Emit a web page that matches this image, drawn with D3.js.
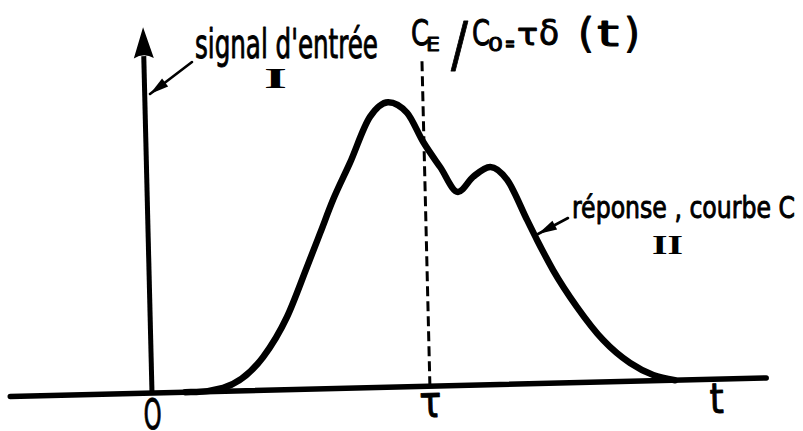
<!DOCTYPE html>
<html>
<head>
<meta charset="utf-8">
<script src="https://cdn.jsdelivr.net/npm/d3@7"></script>
<style>
  html, body { margin: 0; padding: 0; background: #fff; }
  svg { display: block; }
  .hand { font-family: "DejaVu Sans Condensed", "DejaVu Sans", sans-serif; fill: #000; stroke: #000; stroke-width: 0.9; stroke-linejoin: round; }
  .roman { font-family: "Liberation Serif", "DejaVu Serif", serif; font-weight: bold; fill: #000; }
</style>
</head>
<body>
<svg id="chart" width="803" height="431"></svg>
<script>
// Response curve C(t) to a Dirac input, time in units of tau, C/C0 relative to the main peak
const tValues = [0.120, 0.160, 0.256, 0.403, 0.492, 0.568, 0.619, 0.668, 0.732, 0.808, 0.874, 0.942, 0.997, 1.056, 1.118, 1.174, 1.236, 1.296, 1.364, 1.398, 1.453, 1.536, 1.627, 1.722, 1.804, 1.882];
const cValues = [0, 0, 0.012, 0.117, 0.255, 0.428, 0.547, 0.662, 0.790, 0.950, 1.0, 0.961, 0.858, 0.768, 0.679, 0.731, 0.764, 0.717, 0.575, 0.504, 0.397, 0.265, 0.147, 0.064, 0.020, 0];

// time-axis labels and where they sit (in units of tau)
const tickLabels = ["O", "τ", "t"];
const tickValues = [0, 1, 2.03];

// extent of the axes
const timeRange = [-0.51, 2.21];
const signalTop = 1.284;   // tip of the input-signal arrow
const tauLineTop = 1.145;  // top of the dashed line at t = tau

const svg = d3.select("#chart");

const x = d3.scaleLinear().domain([0, 1]).range([0, 278]);
const y = d3.scaleLinear().domain([0, 1]).range([0, -285]);

// the whole frame sits slightly tilted, origin at O
const g = svg.append("g").attr("transform", "translate(152,393) rotate(-1.4)");

// time axis
g.append("line")
  .attr("x1", x(timeRange[0])).attr("x2", x(timeRange[1]))
  .attr("y1", y(0)).attr("y2", y(0))
  .attr("stroke", "#000").attr("stroke-width", 5.5).attr("stroke-linecap", "round");

// input signal: Dirac pulse at t = 0
const headLen = 31, headHalf = 10;
g.append("line")
  .attr("x1", x(0)).attr("x2", x(0))
  .attr("y1", y(0)).attr("y2", y(signalTop) + headLen - 2)
  .attr("stroke", "#000").attr("stroke-width", 5);
g.append("path")
  .attr("d", `M${x(0)},${y(signalTop)} L${x(0) - headHalf},${y(signalTop) + headLen} Q${x(0)},${y(signalTop) + headLen - 6} ${x(0) + headHalf},${y(signalTop) + headLen} Z`)
  .attr("fill", "#000");

// dashed marker at t = tau
g.append("line")
  .attr("x1", x(1)).attr("x2", x(1))
  .attr("y1", y(0)).attr("y2", y(tauLineTop))
  .attr("stroke", "#000").attr("stroke-width", 3).attr("stroke-dasharray", "10,5");

// response curve
const line = d3.line()
  .x((d, i) => x(tValues[i]))
  .y((d, i) => y(cValues[i]))
  .curve(d3.curveMonotoneX);
g.append("path")
  .datum(tValues)
  .attr("d", line)
  .attr("fill", "none")
  .attr("stroke", "#000").attr("stroke-width", 6.5)
  .attr("stroke-linejoin", "round").attr("stroke-linecap", "round");

// time-axis labels
const labelStyle = [
  { size: 42, len: 18, dy: 36 },
  { size: 44, len: 22, dy: 31 },
  { size: 42, len: 14, dy: 34 }
];
tickLabels.forEach((lab, i) => {
  const s = labelStyle[i];
  g.append("text").attr("class", "hand")
    .attr("x", x(tickValues[i]) - s.len / 2).attr("y", s.dy)
    .attr("font-size", s.size)
    .attr("textLength", s.len).attr("lengthAdjust", "spacingAndGlyphs")
    .text(lab);
});

// small pointer arrows from the annotations
function pointer(x1, y1, x2, y2) {
  svg.append("line")
    .attr("x1", x1).attr("y1", y1).attr("x2", x2).attr("y2", y2)
    .attr("stroke", "#000").attr("stroke-width", 2.6).attr("stroke-linecap", "round");
  const a = Math.atan2(y2 - y1, x2 - x1), L = 19, W = 5;
  const bx = x2 - L * Math.cos(a), by = y2 - L * Math.sin(a);
  const px = -Math.sin(a) * W, py = Math.cos(a) * W;
  svg.append("path")
    .attr("d", `M${x2},${y2} L${bx + px},${by + py} L${bx - px},${by - py} Z`)
    .attr("fill", "#000");
}
pointer(192, 62, 150, 94);
pointer(568, 218, 538, 234);

// annotations
function label(txt, px, py, size, len, cls) {
  return svg.append("text").attr("class", cls || "hand")
    .attr("x", px).attr("y", py)
    .attr("font-size", size)
    .attr("textLength", len).attr("lengthAdjust", "spacingAndGlyphs")
    .text(txt);
}
label("signal d'entrée", 195, 58, 40, 183);
label("I", 264, 88, 29, 23, "roman");
label("réponse , courbe C", 572, 218, 31, 223);
label("II", 652, 254, 27, 31, "roman");

// C_E / C_0 = tau delta(t)
label("C", 411, 45, 35, 18);
label("E", 426, 51, 20, 14);
label("/", 451, 65, 60, 17);
label("C", 472, 45, 35, 18);
label("0", 488, 51, 20, 15);
label("=", 505, 50.5, 22, 10).style("stroke-width", 1.6);
label("τ", 517, 45, 31, 21);
label("δ", 539, 45, 35, 20);
label("(", 578, 47, 40, 16);
label("t", 597, 46, 35, 22);
label(")", 624, 47, 40, 16);
</script>
</body>
</html>
